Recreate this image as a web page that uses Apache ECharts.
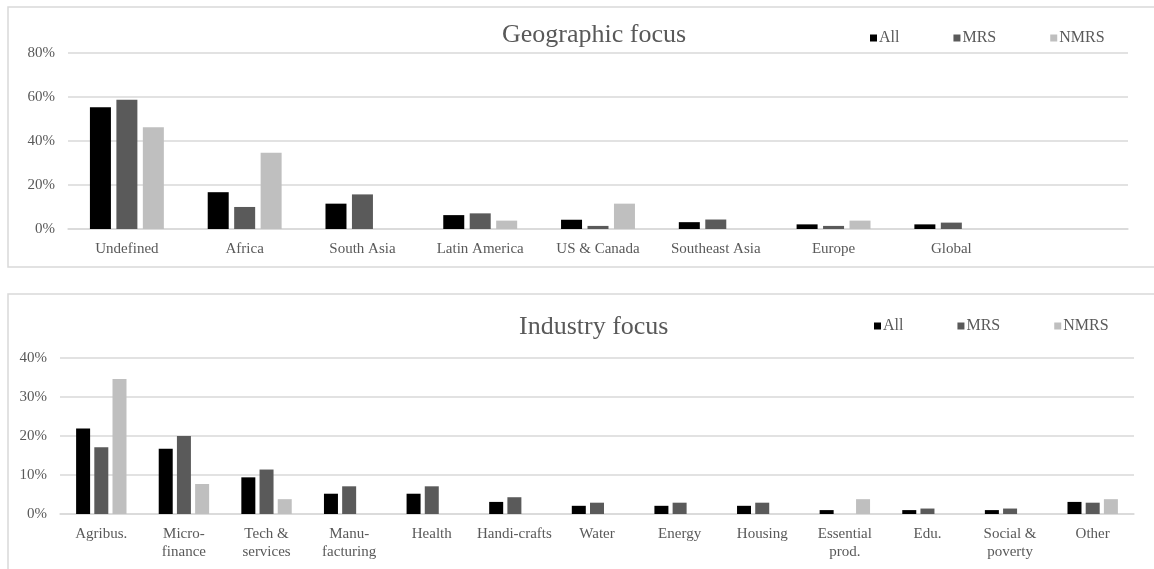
<!DOCTYPE html>
<html><head><meta charset="utf-8">
<script src="https://cdn.jsdelivr.net/npm/echarts@6/dist/echarts.min.js"></script>
<style>html,body{margin:0;padding:0;background:#fff}#c{width:1154px;height:569px}</style>
</head><body><div id="c"></div>
<script>
const seriesNames = ['All', 'MRS', 'NMRS'];
const geoCategories = ['Undefined', 'Africa', 'South Asia', 'Latin America', 'US & Canada', 'Southeast Asia', 'Europe', 'Global', ''];
const geoAll  = [55.2, 16.7, 11.5, 6.3, 4.2, 3.1, 2.1, 2.1, null];
const geoMRS  = [58.6, 10.0, 15.7, 7.1, 1.4, 4.3, 1.4, 2.9, null];
const geoNMRS = [46.2, 34.6, 0, 3.8, 11.5, 0, 3.8, 0, null];
const geoTicks = [0, 20, 40, 60, 80];

const indCategories = ['Agribus.', 'Micro-\nfinance', 'Tech &\nservices', 'Manu-\nfacturing', 'Health', 'Handi-crafts', 'Water', 'Energy', 'Housing', 'Essential\nprod.', 'Edu.', 'Social &\npoverty', 'Other'];
const indAll  = [21.9, 16.7, 9.4, 5.2, 5.2, 3.1, 2.1, 2.1, 2.1, 1.0, 1.0, 1.0, 3.1];
const indMRS  = [17.1, 20.0, 11.4, 7.1, 7.1, 4.3, 2.9, 2.9, 2.9, 0, 1.4, 1.4, 2.9];
const indNMRS = [34.6, 7.7, 3.8, 0, 0, 0, 0, 0, 0, 3.8, 0, 0, 3.8];
const indTicks = [0, 10, 20, 30, 40];

const colors = ['#000000', '#5a5a5a', '#bfbfbf'];
const FONT = '"Liberation Serif", "Times New Roman", serif';
const TXT = '#595959';
const GRID = '#d9d9d9';

const chart = echarts.init(document.getElementById('c'), null, {renderer: 'canvas'});

function yAxis(gi, ticks) {
  return {
    type: 'value', gridIndex: gi, min: ticks[0], max: ticks[ticks.length - 1],
    interval: ticks[1] - ticks[0],
    axisLine: {show: false}, axisTick: {show: false},
    axisLabel: {formatter: '{value}%', color: TXT, fontFamily: FONT, fontSize: 15, margin: 13},
    splitLine: {lineStyle: {color: GRID, width: 1.5}}
  };
}
function xAxis(gi, cats, margin) {
  return {
    type: 'category', gridIndex: gi, data: cats,
    axisLine: {lineStyle: {color: GRID, width: 1.5}}, axisTick: {show: false},
    axisLabel: {color: TXT, fontFamily: FONT, fontSize: 15, margin: margin, lineHeight: 18, interval: 0}
  };
}
function bars(gi, arrs, bw, gap) {
  return arrs.map((d, i) => ({
    type: 'bar', name: seriesNames[i], xAxisIndex: gi, yAxisIndex: gi, data: d,
    barWidth: bw, barGap: gap, itemStyle: {color: colors[i]}, animation: false
  }));
}
function legend(left, top) {
  return {
    data: seriesNames, left: left, top: top, icon: 'rect', itemWidth: 7, itemHeight: 7,
    itemGap: 54, textStyle: {color: TXT, fontFamily: FONT, fontSize: 16, padding: [0, 0, 0, -3]}
  };
}

chart.setOption({
  animation: false,
  title: [
    {text: 'Geographic focus', left: 497, top: 17, textStyle: {color: TXT, fontFamily: FONT, fontSize: 26, fontWeight: 'normal'}},
    {text: 'Industry focus', left: 514, top: 309, textStyle: {color: TXT, fontFamily: FONT, fontSize: 26, fontWeight: 'normal'}}
  ],
  legend: [legend(865, 25), legend(869, 313)],
  grid: [
    {left: 68, right: 26, top: 52.7, bottom: 340},
    {left: 60, right: 20, top: 358, bottom: 55}
  ],
  xAxis: [xAxis(0, geoCategories, 11), xAxis(1, indCategories, 11)],
  yAxis: [yAxis(0, geoTicks), yAxis(1, indTicks)],
  series: [].concat(bars(0, [geoAll, geoMRS, geoNMRS], 21, '26%'), bars(1, [indAll, indMRS, indNMRS], 14, '30%')),
  graphic: [
    {type: 'rect', shape: {x: 8, y: 7, width: 1160, height: 260}, style: {fill: 'none', stroke: '#d9d9d9', lineWidth: 1.5}, silent: true},
    {type: 'rect', shape: {x: 8, y: 294, width: 1160, height: 300}, style: {fill: 'none', stroke: '#d9d9d9', lineWidth: 1.5}, silent: true}
  ]
});
</script>
</body></html>
